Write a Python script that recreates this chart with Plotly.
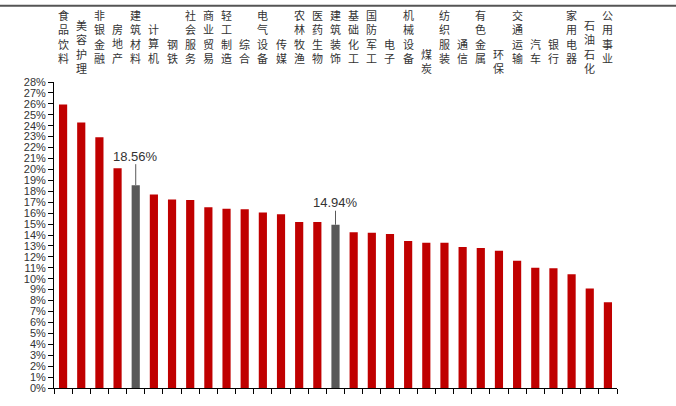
import plotly.graph_objects as go

# Industry categories (left to right) and their values in percent
industries = [
    "食品饮料", "美容护理", "非银金融", "房地产", "建筑材料", "计算机", "钢铁",
    "社会服务", "商业贸易", "轻工制造", "综合", "电气设备", "传媒", "农林牧渔",
    "医药生物", "建筑装饰", "基础化工", "国防军工", "电子", "机械设备", "煤炭",
    "纺织服装", "通信", "有色金属", "环保", "交通运输", "汽车", "银行",
    "家用电器", "石油石化", "公用事业",
]
values = [
    25.95, 24.3, 22.95, 20.1, 18.56, 17.7, 17.25,
    17.2, 16.55, 16.4, 16.35, 16.05, 15.9, 15.2,
    15.2, 14.94, 14.25, 14.2, 14.1, 13.45, 13.3,
    13.3, 12.9, 12.8, 12.55, 11.65, 11.0, 10.95,
    10.4, 9.1, 7.85,
]
# Highlighted industries, labelled with their values
highlighted = ["建筑材料", "建筑装饰"]
# Labels drawn a little lower to avoid crowding
lowered = ["美容护理", "煤炭", "环保", "石油石化"]

y_ticks = list(range(0, 29))

RED = "#C00000"
GRAY = "#595959"
TEXT = "#333333"

W, H = 676, 406
M_L, M_R, M_T, M_B = 54, 59, 82, 13

colors = [GRAY if name in highlighted else RED for name in industries]

fig = go.Figure()
fig.add_trace(go.Bar(
    x=industries,
    y=values,
    marker=dict(color=colors, line=dict(width=0)),
    hoverinfo="x+y",
))

annotations = []

# Vertical category labels above the plot (one character per line),
# bottom-aligned just above the plotting area
LABEL_SIZE = 11
LINE_STEP = LABEL_SIZE * 1.3
LAST_CHAR_CENTER = 58  # pixel centre of a label's last character
for name in industries:
    n = len(name)
    shift = 10 if name in lowered else 0
    center = LAST_CHAR_CENTER + shift - (n - 1) * LINE_STEP / 2
    annotations.append(dict(
        x=name, xref="x", y=1, yref="paper",
        yshift=M_T - center, yanchor="middle", xanchor="center",
        text="<br>".join(name), showarrow=False, borderpad=0,
        font=dict(family="Noto Sans CJK SC", size=LABEL_SIZE, color=TEXT),
    ))

# Value callouts for the highlighted bars
callout_offset = {"建筑材料": -29, "建筑装饰": -22}
for name, v in zip(industries, values):
    if name in highlighted:
        annotations.append(dict(
            x=name, xref="x", y=v, yref="y",
            text=f"{v:.2f}%", showarrow=True,
            ax=0, ay=callout_offset[name],
            arrowhead=0, arrowwidth=1, arrowcolor=GRAY,
            font=dict(family="Liberation Sans", size=13, color=TEXT),
            borderpad=0,
        ))

fig.update_layout(
    width=W, height=H,
    margin=dict(l=M_L, r=M_R, t=M_T, b=M_B),
    paper_bgcolor="white", plot_bgcolor="white",
    bargap=0.55,
    showlegend=False,
    annotations=annotations,
    xaxis=dict(
        type="category",
        showticklabels=False,
        ticks="outside", tickson="boundaries", ticklen=5,
        tickcolor="black", tickwidth=1,
        showline=True, linecolor="black", linewidth=1,
        showgrid=False, zeroline=False,
    ),
    yaxis=dict(
        range=[0, 28],
        tickmode="array", tickvals=y_ticks,
        ticktext=[f"{t}%" for t in y_ticks],
        ticks="outside", ticklen=5, tickcolor="black", tickwidth=1,
        showline=True, linecolor="black", linewidth=1,
        showgrid=False, zeroline=False,
        tickfont=dict(family="Liberation Sans", size=11, color=TEXT),
    ),
    shapes=[
        # header rule across the top of the page
        dict(type="line", xref="paper", yref="paper",
             x0=-M_L / (W - M_L - M_R), x1=1 + M_R / (W - M_L - M_R),
             y0=1 + (M_T - 4.5) / (H - M_T - M_B),
             y1=1 + (M_T - 4.5) / (H - M_T - M_B),
             line=dict(color="#555555", width=2)),
    ],
)

fig.write_html("out.html")
